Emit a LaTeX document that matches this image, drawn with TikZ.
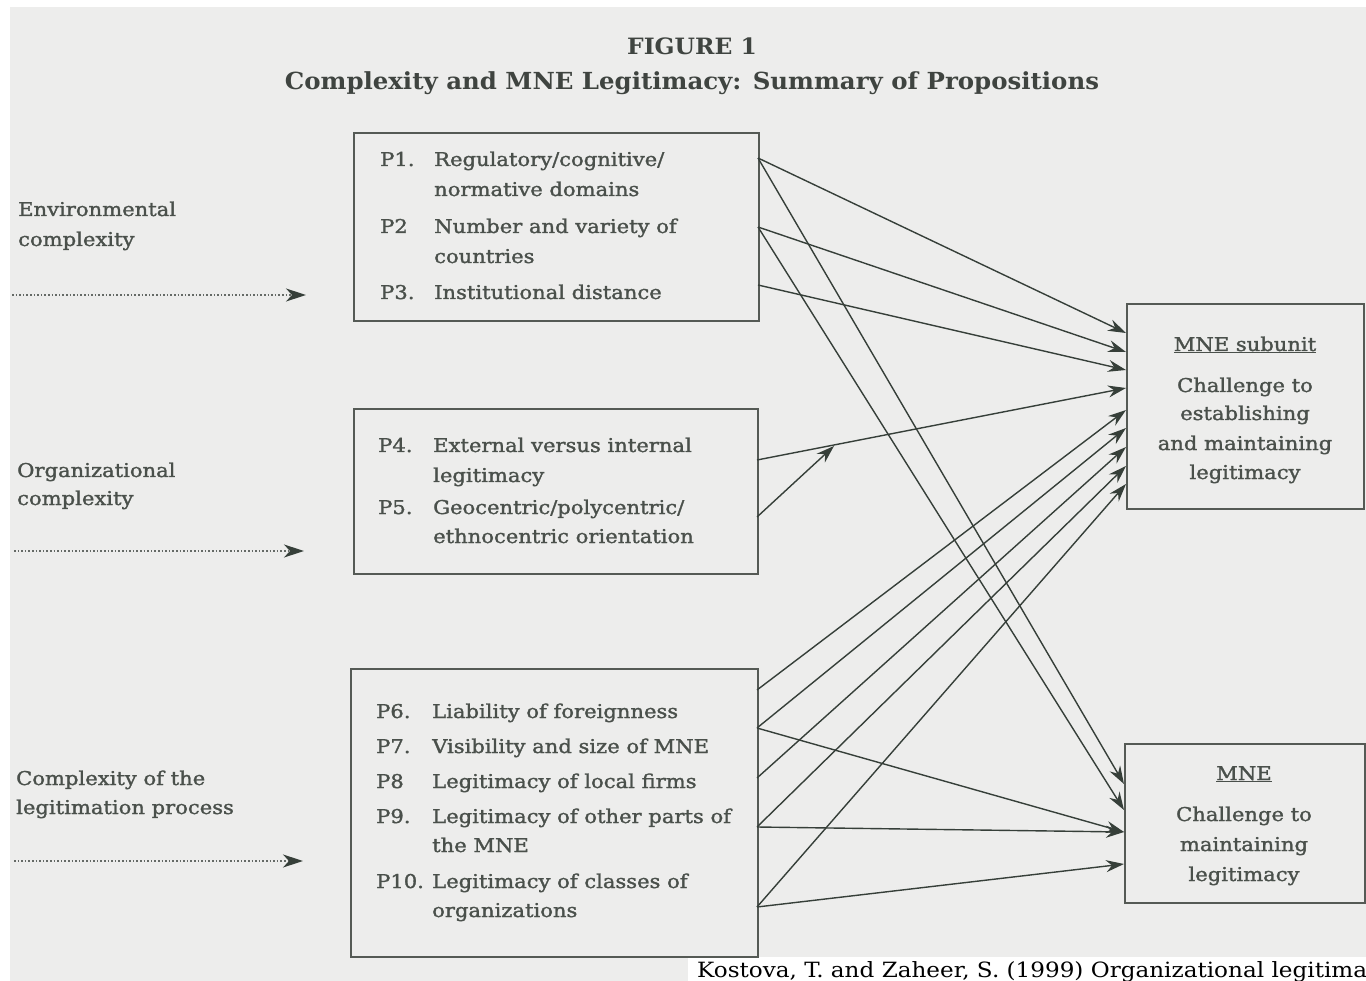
\documentclass[tikz,border=0pt]{standalone}
\usepackage{fontspec}
\setmainfont{DejaVu Serif}
\newfontfamily\figfont[FakeStretch=1.11,FakeBold=1.5]{DejaVu Serif}
\newfontfamily\ttlfont[FakeStretch=1.04]{DejaVu Serif}
\newfontfamily\citfont[FakeStretch=1.1]{DejaVu Serif}
\usetikzlibrary{arrows.meta}
\definecolor{bgc}{HTML}{EDEDEC}
\definecolor{ink}{HTML}{4A504B}
\definecolor{lnc}{HTML}{363F39}
\definecolor{bxc}{HTML}{555A55}
\tikzset{
  txt/.style={anchor=base west, inner sep=0pt, text=ink, font=\figfont\fontsize{19}{22}\selectfont},
  ctxt/.style={txt, anchor=base},
  ttl/.style={anchor=base, inner sep=0pt, text=ink!85!black, font=\ttlfont\bfseries\fontsize{22.5}{26}\selectfont},
  boxs/.style={draw=bxc, line width=1.9pt, inner sep=0pt, anchor=north west, fill=none},
  conn/.style={draw=lnc, line width=1.4pt, -{Stealth[length=18pt,width=12pt,inset=6pt]}},
  dotarrow/.style={draw=ink!85, line width=1.6pt, dotted, -{Stealth[length=20pt,width=13pt,inset=6pt,color=lnc,fill=lnc]}}
}
\begin{document}
\begin{tikzpicture}[x=1pt,y=-1pt]
\useasboundingbox (0,0) rectangle (1366,981);
\clip (0,0) rectangle (1366,981);
\fill[white] (0,0) rectangle (1366,981);
\fill[bgc] (10,7) rectangle (1366,981);
\fill[white] (688,957) rectangle (1366,981);

% titles
\node[ttl] (t1) at (692,55) {FIGURE 1};
\node[ttl, font=\ttlfont\bfseries\fontsize{23.5}{26}\selectfont] (t2) at (692,90) {Complexity and MNE Legitimacy: Summary of Propositions};

% boxes
\node[boxs, minimum width=405pt, minimum height=188pt] (A) at (353,132) {};
\node[boxs, minimum width=404pt, minimum height=165pt] (B) at (353,408) {};
\node[boxs, minimum width=407pt, minimum height=288pt] (C) at (350,668) {};
\node[boxs, minimum width=237pt, minimum height=205pt] (D) at (1126,303) {};
\node[boxs, minimum width=240pt, minimum height=159pt] (E) at (1124,743) {};

% left labels
\node[txt] (e1) at (18,216) {Environmental};
\node[txt] (e2) at (18,246) {complexity};
\node[txt] (o1) at (17,477) {Organizational};
\node[txt] (o2) at (17,505) {complexity};
\node[txt] (c1) at (16,785) {Complexity of the};
\node[txt] (c2) at (16,814) {legitimation process};

\coordinate (ea) at (12,295);  \coordinate (eb) at (306,295);
\coordinate (oa) at (14,551);  \coordinate (ob) at (304,551);
\coordinate (ca) at (14,861);  \coordinate (cb) at (303,861);
\draw[dotarrow] (ea) -- (eb);
\draw[dotarrow] (oa) -- (ob);
\draw[dotarrow] (ca) -- (cb);

% box A
\node[txt] (pa1) at (380,166) {P1.};
\node[txt] (qa1) at (434,166) {Regulatory/cognitive/};
\node[txt] (qa2) at (434,196) {normative domains};
\node[txt] (pa2) at (380,233) {P2};
\node[txt] (qa3) at (434,233) {Number and variety of};
\node[txt] (qa4) at (434,263) {countries};
\node[txt] (pa3) at (380,299) {P3.};
\node[txt] (qa5) at (434,299) {Institutional distance};

% box B
\node[txt] (pb4) at (378,452) {P4.};
\node[txt] (qb1) at (433,452) {External versus internal};
\node[txt] (qb2) at (433,482) {legitimacy};
\node[txt] (pb5) at (378,514) {P5.};
\node[txt] (qb3) at (433,514) {Geocentric/polycentric/};
\node[txt] (qb4) at (433,543) {ethnocentric orientation};

% box C
\node[txt] (pc6) at (376,718) {P6.};
\node[txt] (qc1) at (432,718) {Liability of foreignness};
\node[txt] (pc7) at (376,753) {P7.};
\node[txt] (qc2) at (432,753) {Visibility and size of MNE};
\node[txt] (pc8) at (376,788) {P8};
\node[txt] (qc3) at (432,788) {Legitimacy of local firms};
\node[txt] (pc9) at (376,823) {P9.};
\node[txt] (qc4) at (432,823) {Legitimacy of other parts of};
\node[txt] (qc5) at (432,852) {the MNE};
\node[txt] (pc10) at (376,888) {P10.};
\node[txt] (qc6) at (432,888) {Legitimacy of classes of};
\node[txt] (qc7) at (432,917) {organizations};

% box D
\node[ctxt] (d1) at (1245,351) {\underline{MNE subunit}};
\node[ctxt] (d2) at (1245,392) {Challenge to};
\node[ctxt] (d3) at (1245,420) {establishing};
\node[ctxt] (d4) at (1245,450) {and maintaining};
\node[ctxt] (d5) at (1245,479) {legitimacy};

% box E
\node[ctxt] (f1) at (1244,780) {\underline{MNE}};
\node[ctxt] (f2) at (1244,821) {Challenge to};
\node[ctxt] (f3) at (1244,851) {maintaining};
\node[ctxt] (f4) at (1244,881) {legitimacy};

% citation
\node[anchor=base west, inner sep=0pt, text=black, font=\citfont\fontsize{21}{24}\selectfont] (cit) at (697,977) {Kostova, T. and Zaheer, S. (1999) Organizational legitima};

% connector end points
\coordinate (s1) at (758,158);
\coordinate (s2) at (758,227);
\coordinate (s3) at (758,285);
\coordinate (s4) at (757,460);
\coordinate (s5) at (757,517);
\coordinate (s6) at (757,690);
\coordinate (s7) at (757,728);
\coordinate (s8) at (757,778);
\coordinate (s9) at (757,827);
\coordinate (s10) at (757,907);
\coordinate (m5) at (834,446);

\coordinate (d01) at (1126,333);
\coordinate (d02) at (1126,352);
\coordinate (d03) at (1126,370);
\coordinate (d04) at (1126,388);
\coordinate (d06) at (1126,410);
\coordinate (d07) at (1126,428);
\coordinate (d08) at (1126,447);
\coordinate (d09) at (1126,466);
\coordinate (d10) at (1126,484);

\coordinate (e01) at (1124,784);
\coordinate (e02) at (1124,810);
\coordinate (e07) at (1124,832);
\coordinate (e10) at (1124,864);

\draw[conn] (s1) -- (d01);
\draw[conn] (s2) -- (d02);
\draw[conn] (s3) -- (d03);
\draw[conn] (s4) -- (d04);
\draw[conn] (s5) -- (m5);
\draw[conn] (s6) -- (d06);
\draw[conn] (s7) -- (d07);
\draw[conn] (s8) -- (d08);
\draw[conn] (s9) -- (d09);
\draw[conn] (s10) -- (d10);
\draw[conn] (s1) -- (e01);
\draw[conn] (s2) -- (e02);
\draw[conn] (s7) -- (e07);
\draw[conn] (s9) -- (e07);
\draw[conn] (s10) -- (e10);
\end{tikzpicture}
\end{document}
